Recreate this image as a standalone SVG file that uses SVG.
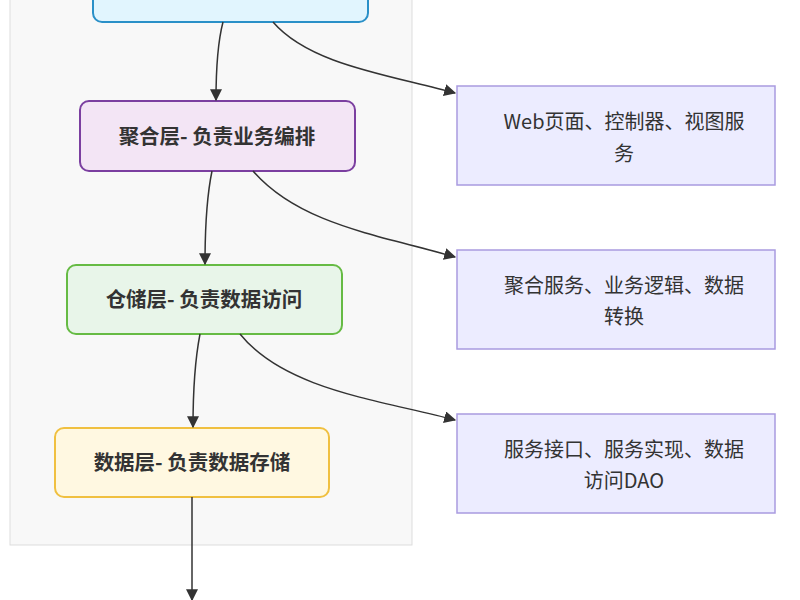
<svg xmlns="http://www.w3.org/2000/svg" width="800" height="600" viewBox="0 0 800 600">
<style>
text{font-family:"Noto Sans CJK SC","Noto Sans",sans-serif;fill:#333;text-anchor:middle;dominant-baseline:central}
.n{font-size:20.5px;font-weight:bold}
.d{font-size:20px}
.side{fill:#ececff;stroke:#a99be0;stroke-width:1.5}
.e{fill:none;stroke:#333;stroke-width:1.5;marker-end:url(#a)}
</style>
<defs><marker id="a" viewBox="0 0 10 10" refX="9" refY="5" markerWidth="8" markerHeight="8" orient="auto"><path d="M0,0L10,5L0,10z" fill="#333"/></marker></defs>
<rect x="10" y="-10" width="402" height="555" fill="#f8f8f8" stroke="#ddd"/>
<g id="n1"><rect x="93" y="-50" width="275" height="72" rx="9" fill="#e1f5fe" stroke="#2a90c8" stroke-width="2"/></g>
<g id="n2"><rect x="80" y="101" width="275" height="70" rx="9" fill="#f3e5f5" stroke="#7b3fa0" stroke-width="2"/><text class="n" x="217" y="135">聚合层- 负责业务编排</text></g>
<g id="n3"><rect x="67" y="265" width="275" height="69" rx="9" fill="#e8f5e9" stroke="#66bb44" stroke-width="2"/><text class="n" x="204" y="298">仓储层- 负责数据访问</text></g>
<g id="n4"><rect x="55" y="428" width="274" height="69" rx="9" fill="#fff8e1" stroke="#f0c040" stroke-width="2"/><text class="n" x="192" y="461">数据层- 负责数据存储</text></g>
<g id="s1"><rect class="side" x="457" y="86" width="318" height="99"/><text class="d" x="624" y="120">Web页面、控制器、视图服</text><text class="d" x="624" y="152">务</text></g>
<g id="s2"><rect class="side" x="457" y="250" width="318" height="99"/><text class="d" x="624" y="284">聚合服务、业务逻辑、数据</text><text class="d" x="624" y="315">转换</text></g>
<g id="s3"><rect class="side" x="457" y="414" width="318" height="99"/><text class="d" x="624" y="448">服务接口、服务实现、数据</text><text class="d" x="624" y="479">访问DAO</text></g>
<g id="edges">
<path class="e" d="M223,22C217,45 216,70 216,100"/>
<path class="e" d="M273,22C310,65 390,75 455,93"/>
<path class="e" d="M212,171C206,200 205,235 205,264"/>
<path class="e" d="M253,171C300,225 380,235 455,257"/>
<path class="e" d="M200,334C194,365 193,400 193,427"/>
<path class="e" d="M240,334C285,390 380,400 455,420"/>
<path class="e" d="M192,497L192,600"/>
</g>
</svg>
